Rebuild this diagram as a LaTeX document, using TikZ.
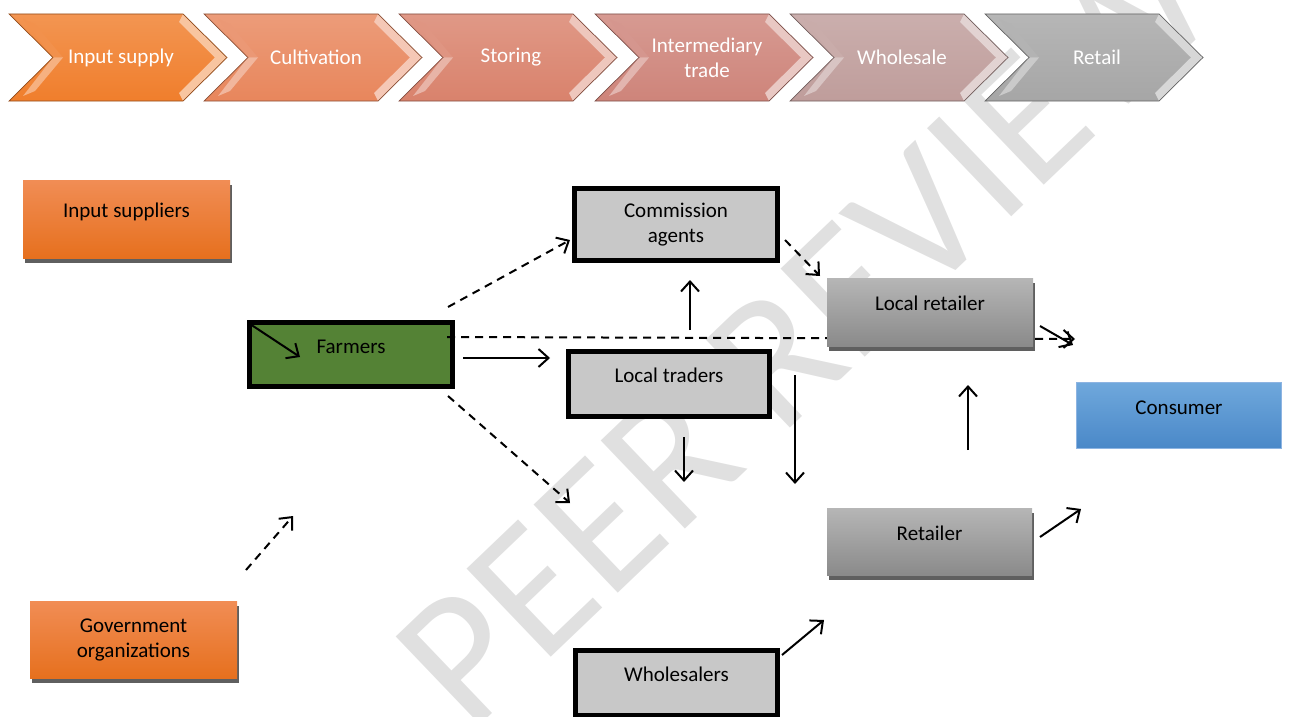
\documentclass[tikz,border=0pt]{standalone}
\usepackage{fontspec}
\setmainfont{Carlito}
\usepackage{xcolor}
\usepackage{tikz}
\usetikzlibrary{arrows.meta,shadows}

\definecolor{chevA}{RGB}{240,126,44}
\definecolor{chevB}{RGB}{232,134,92}
\definecolor{chevC}{RGB}{217,130,108}
\definecolor{chevD}{RGB}{206,132,122}
\definecolor{chevE}{RGB}{191,157,155}
\definecolor{chevF}{RGB}{166,166,166}
\definecolor{wmgray}{RGB}{224,224,224}
\definecolor{boxgray}{RGB}{200,200,200}
\definecolor{shadowgray}{RGB}{95,95,95}
\definecolor{farmgreen}{RGB}{84,130,53}

\begin{document}
\begin{tikzpicture}[x=1pt,y=-1pt]

	\tikzstyle{label}=[font=\fontsize{21}{25}\selectfont,inner sep=0pt,align=center]
	\tikzstyle{stagetext}=[label,text=white]
	\tikzstyle{raised}=[text height=15pt,text depth=18pt]
	\tikzstyle{thickbox}=[label,draw=black,line width=5pt,fill=boxgray]
	\tikzstyle{shadebox}=[label,general shadow={fill=shadowgray,shadow xshift=2pt,shadow yshift=-5pt}]
	\tikzstyle{orangebox}=[shadebox,top color={rgb,255:red,241;green,141;blue,85},middle color={rgb,255:red,244;green,127;blue,42},bottom color={rgb,255:red,230;green,112;blue,30}]
	\tikzstyle{greybox}=[shadebox,top color={rgb,255:red,182;green,182;blue,182},bottom color={rgb,255:red,138;green,138;blue,138}]
	\tikzstyle{bluebox}=[label,draw={rgb,255:red,141;green,180;blue,226},line width=1pt,top color={rgb,255:red,111;green,168;blue,220},bottom color={rgb,255:red,74;green,136;blue,200}]
	\tikzstyle{flow}=[line width=2pt,-{Straight Barb[length=10pt,width=18pt,line width=2pt]}]
	\tikzstyle{dflow}=[flow,dash pattern=on 8pt off 6pt]

	\useasboundingbox (0,0) rectangle (1290,717);

	% watermark
	\node[text=wmgray,font=\fontsize{190}{200}\selectfont,rotate=43.7,inner sep=0pt] (mark) at (805,330) {PEER REVIEW};

	% value chain stages
	\foreach \x/\c/\t [count=\i] in {9/chevA/Input supply,204/chevB/Cultivation,399/chevC/Storing,595/chevD/{Intermediary\\trade},790/chevE/Wholesale,985/chevF/Retail}{
		\shade[top color=\c!82!white,bottom color=\c] (\x,14) -- ({\x+174},14) -- ({\x+218},57.5) -- ({\x+174},101) -- (\x,101) -- ({\x+44},57.5) -- cycle;
		\fill[\c!85!white] ({\x+14},19) -- ({\x+44},57.5) -- ({\x+54},57.5) -- ({\x+26},24) -- cycle;
		\fill[\c!60!white] ({\x+14},96) -- ({\x+44},57.5) -- ({\x+54},57.5) -- ({\x+26},91) -- cycle;
		\fill[\c!45!white] ({\x+174},14) -- ({\x+218},57.5) -- ({\x+174},101) -- ({\x+170},93) -- ({\x+206},57.5) -- ({\x+170},22) -- cycle;
		\draw[\c!60!black,line width=0.7pt] (\x,14) -- ({\x+174},14) -- ({\x+218},57.5) -- ({\x+174},101) -- (\x,101) -- ({\x+44},57.5) -- cycle;
		\node[stagetext] (stage\i) at ({\x+112},57.5) {\t};
	}

	% actors
	\node[orangebox,raised,minimum width=207pt,minimum height=78pt] (inputsup) at (126.5,219) {Input suppliers};
	\node[orangebox,minimum width=207pt,minimum height=77pt] (govorg) at (133.5,639.5) {Government\\organizations};
	\node[thickbox,raised,fill=farmgreen,minimum width=203pt,minimum height=64pt] (farmers) at (351,354.5) {Farmers};
	\node[thickbox,minimum width=203pt,minimum height=72pt] (commission) at (676,224.5) {Commission\\agents};
	\node[thickbox,raised,minimum width=201pt,minimum height=65pt] (localtraders) at (669,384) {Local traders};
	\node[thickbox,raised,minimum width=202pt,minimum height=65pt] (wholesalers) at (676.5,683) {Wholesalers};
	\node[greybox,raised,minimum width=205pt,minimum height=67pt] (retailer) at (929.5,541.5) {Retailer};
	\node[bluebox,raised,minimum width=205pt,minimum height=66pt] (consumer) at (1179,415.5) {Consumer};

	% connectors
	\coordinate (fcA) at (448,307);  \coordinate (fcB) at (570,240);
	\coordinate (frA) at (447,337);  \coordinate (frB) at (1075,339);
	\coordinate (ftA) at (463,358);  \coordinate (ftB) at (550,358);
	\coordinate (fwA) at (448,396);  \coordinate (fwB) at (570,503);
	\coordinate (tcA) at (690,330);  \coordinate (tcB) at (690,280);
	\coordinate (clA) at (785,240);  \coordinate (clB) at (820,276);
	\coordinate (tdA) at (684,437);  \coordinate (tdB) at (684,482);
	\coordinate (tlA) at (795,375);  \coordinate (tlB) at (795,484);
	\coordinate (rlA) at (968,450);  \coordinate (rlB) at (968,385);
	\coordinate (rcA) at (1040,537); \coordinate (rcB) at (1081,509);
	\coordinate (wrA) at (782,655);  \coordinate (wrB) at (824,620);
	\coordinate (gfA) at (246,570);  \coordinate (gfB) at (293,516);
	\coordinate (ffA) at (250,324);  \coordinate (ffB) at (300,357);
	\coordinate (lcA) at (1040,326); \coordinate (lcB) at (1073,345);

	\draw[dflow] (frA) -- (frB);
	\node[greybox,raised,minimum width=206pt,minimum height=68pt] (localretail) at (930,312) {Local retailer};

	\draw[dflow] (fcA) -- (fcB);
	\draw[flow] (ftA) -- (ftB);
	\draw[dflow] (fwA) -- (fwB);
	\draw[flow] (tcA) -- (tcB);
	\draw[dflow] (clA) -- (clB);
	\draw[flow] (tdA) -- (tdB);
	\draw[flow] (tlA) -- (tlB);
	\draw[flow] (rlA) -- (rlB);
	\draw[flow] (rcA) -- (rcB);
	\draw[flow] (wrA) -- (wrB);
	\draw[dflow] (gfA) -- (gfB);
	\draw[flow] (ffA) -- (ffB);
	\draw[flow] (lcA) -- (lcB);

\end{tikzpicture}
\end{document}
